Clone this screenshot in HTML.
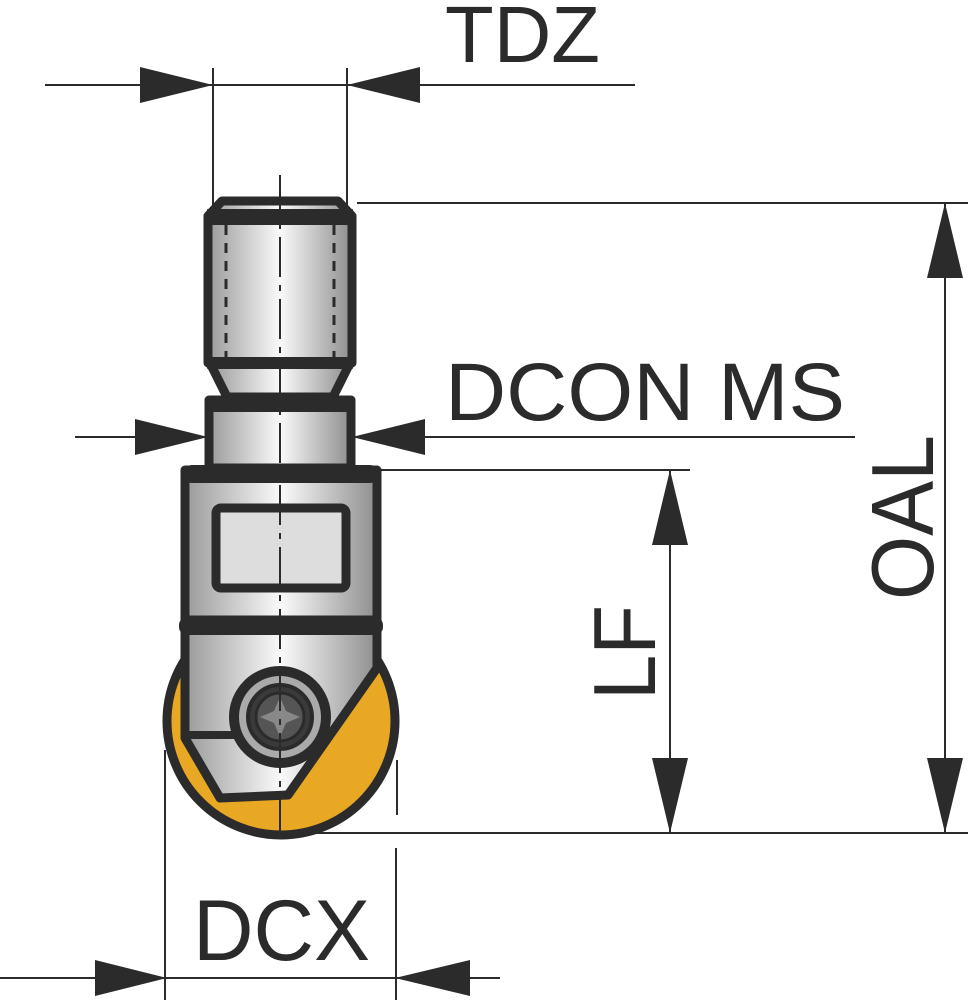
<!DOCTYPE html>
<html><head><meta charset="utf-8"><style>html,body{margin:0;padding:0;background:#fff}svg{display:block}</style></head>
<body>
<svg width="971" height="1000" viewBox="0 0 971 1000" xmlns="http://www.w3.org/2000/svg">
<defs>
<linearGradient id="m" x1="0" x2="1" y1="0" y2="0">
<stop offset="0" stop-color="#9a9a9a"/><stop offset="0.5" stop-color="#fafafa"/><stop offset="1" stop-color="#8e8e8e"/>
</linearGradient>
</defs>
<g fill="#2b2b2b" font-family="Liberation Sans, Arial, sans-serif">
<g stroke="#2b2b2b" stroke-width="2" fill="none">
<line x1="45" y1="85" x2="635" y2="85"/>
<line x1="213" y1="68" x2="213" y2="205"/>
<line x1="347" y1="68" x2="347" y2="205"/>
<line x1="357" y1="203" x2="968" y2="203"/>
<line x1="300" y1="833" x2="968" y2="833"/>
<line x1="945" y1="203" x2="945" y2="833"/>
<line x1="75" y1="437" x2="855" y2="437"/>
<line x1="380" y1="470" x2="690" y2="470"/>
<line x1="670" y1="470" x2="670" y2="833"/>
<line x1="165" y1="750" x2="165" y2="1000"/>
<line x1="397" y1="760" x2="397" y2="815"/>
<line x1="396" y1="848" x2="396" y2="1000"/>
<line x1="0" y1="978" x2="500" y2="978"/>
</g>
<polygon points="140,67 213,85 140,103"/>
<polygon points="420,67 347,85 420,103"/>
<polygon points="927,278 945,203 963,278"/>
<polygon points="927,758 945,833 963,758"/>
<polygon points="135,419 208,437 135,455"/>
<polygon points="425,419 352,437 425,455"/>
<polygon points="652,545 670,470 688,545"/>
<polygon points="652,758 670,833 688,758"/>
<polygon points="95,960 167,978 95,996"/>
<polygon points="470,960 395,978 470,996"/>
<text x="445" y="62" font-size="80" textLength="155" lengthAdjust="spacingAndGlyphs">TDZ</text>
<text x="445" y="420" font-size="82" textLength="400" lengthAdjust="spacingAndGlyphs">DCON MS</text>
<text x="193" y="960" font-size="86" textLength="177" lengthAdjust="spacingAndGlyphs">DCX</text>
<text transform="translate(933,600) rotate(-90)" font-size="88" textLength="165" lengthAdjust="spacingAndGlyphs">OAL</text>
<text transform="translate(655,700) rotate(-90)" font-size="88" textLength="95" lengthAdjust="spacingAndGlyphs">LF</text>
</g>
<g stroke="#2b2b2b" stroke-linejoin="round">
<circle cx="281" cy="721" r="114" fill="#e8a823" stroke-width="9"/>
<path d="M185,630 L377,630 L377,668 L288,795 L220,798 L185,738 Z" fill="url(#m)" stroke-width="9"/>
<line x1="185" y1="735" x2="240" y2="735" stroke-width="8"/>
<rect x="180" y="618" width="202" height="16" rx="7" fill="#2b2b2b" stroke-width="2"/>
<rect x="185" y="470" width="192" height="150" fill="url(#m)" stroke-width="9"/>
<rect x="185" y="466" width="192" height="16" rx="7" fill="#2b2b2b" stroke-width="2"/>
<rect x="216" y="508" width="130" height="80" rx="5" fill="#ddd" stroke-width="9"/>
<rect x="209" y="400" width="142" height="68" fill="url(#m)" stroke-width="9"/>
<rect x="209" y="397" width="142" height="14" rx="6" fill="#2b2b2b" stroke-width="2"/>
<path d="M210,363 L350,363 L333,397 L227,397 Z" fill="url(#m)" stroke-width="9"/>
<path d="M222,201 L338,201 L352,216 L352,363 L208,363 L208,216 Z" fill="url(#m)" stroke-width="9"/>
<rect x="208" y="210" width="144" height="14" fill="#2b2b2b" stroke-width="2"/>
<rect x="208" y="358" width="144" height="10" fill="#2b2b2b" stroke-width="2"/>
<line x1="226" y1="225" x2="226" y2="358" stroke-width="3" stroke-dasharray="10,8"/>
<line x1="334" y1="225" x2="334" y2="358" stroke-width="3" stroke-dasharray="10,8"/>
<circle cx="280" cy="717" r="46" fill="#aaa" stroke-width="10"/>
<circle cx="280" cy="717" r="32" fill="#3a3a3a" stroke-width="4"/>
<circle cx="280" cy="717" r="24" fill="#555" stroke-width="3"/>
<path d="M280,697 L286,711 L300,717 L286,723 L280,737 L274,723 L260,717 L274,711 Z" fill="#888" stroke="none"/>
<line x1="280" y1="175" x2="280" y2="840" stroke-width="2" stroke-dasharray="40,8,6,8"/>
</g>
</svg>
</body></html>
